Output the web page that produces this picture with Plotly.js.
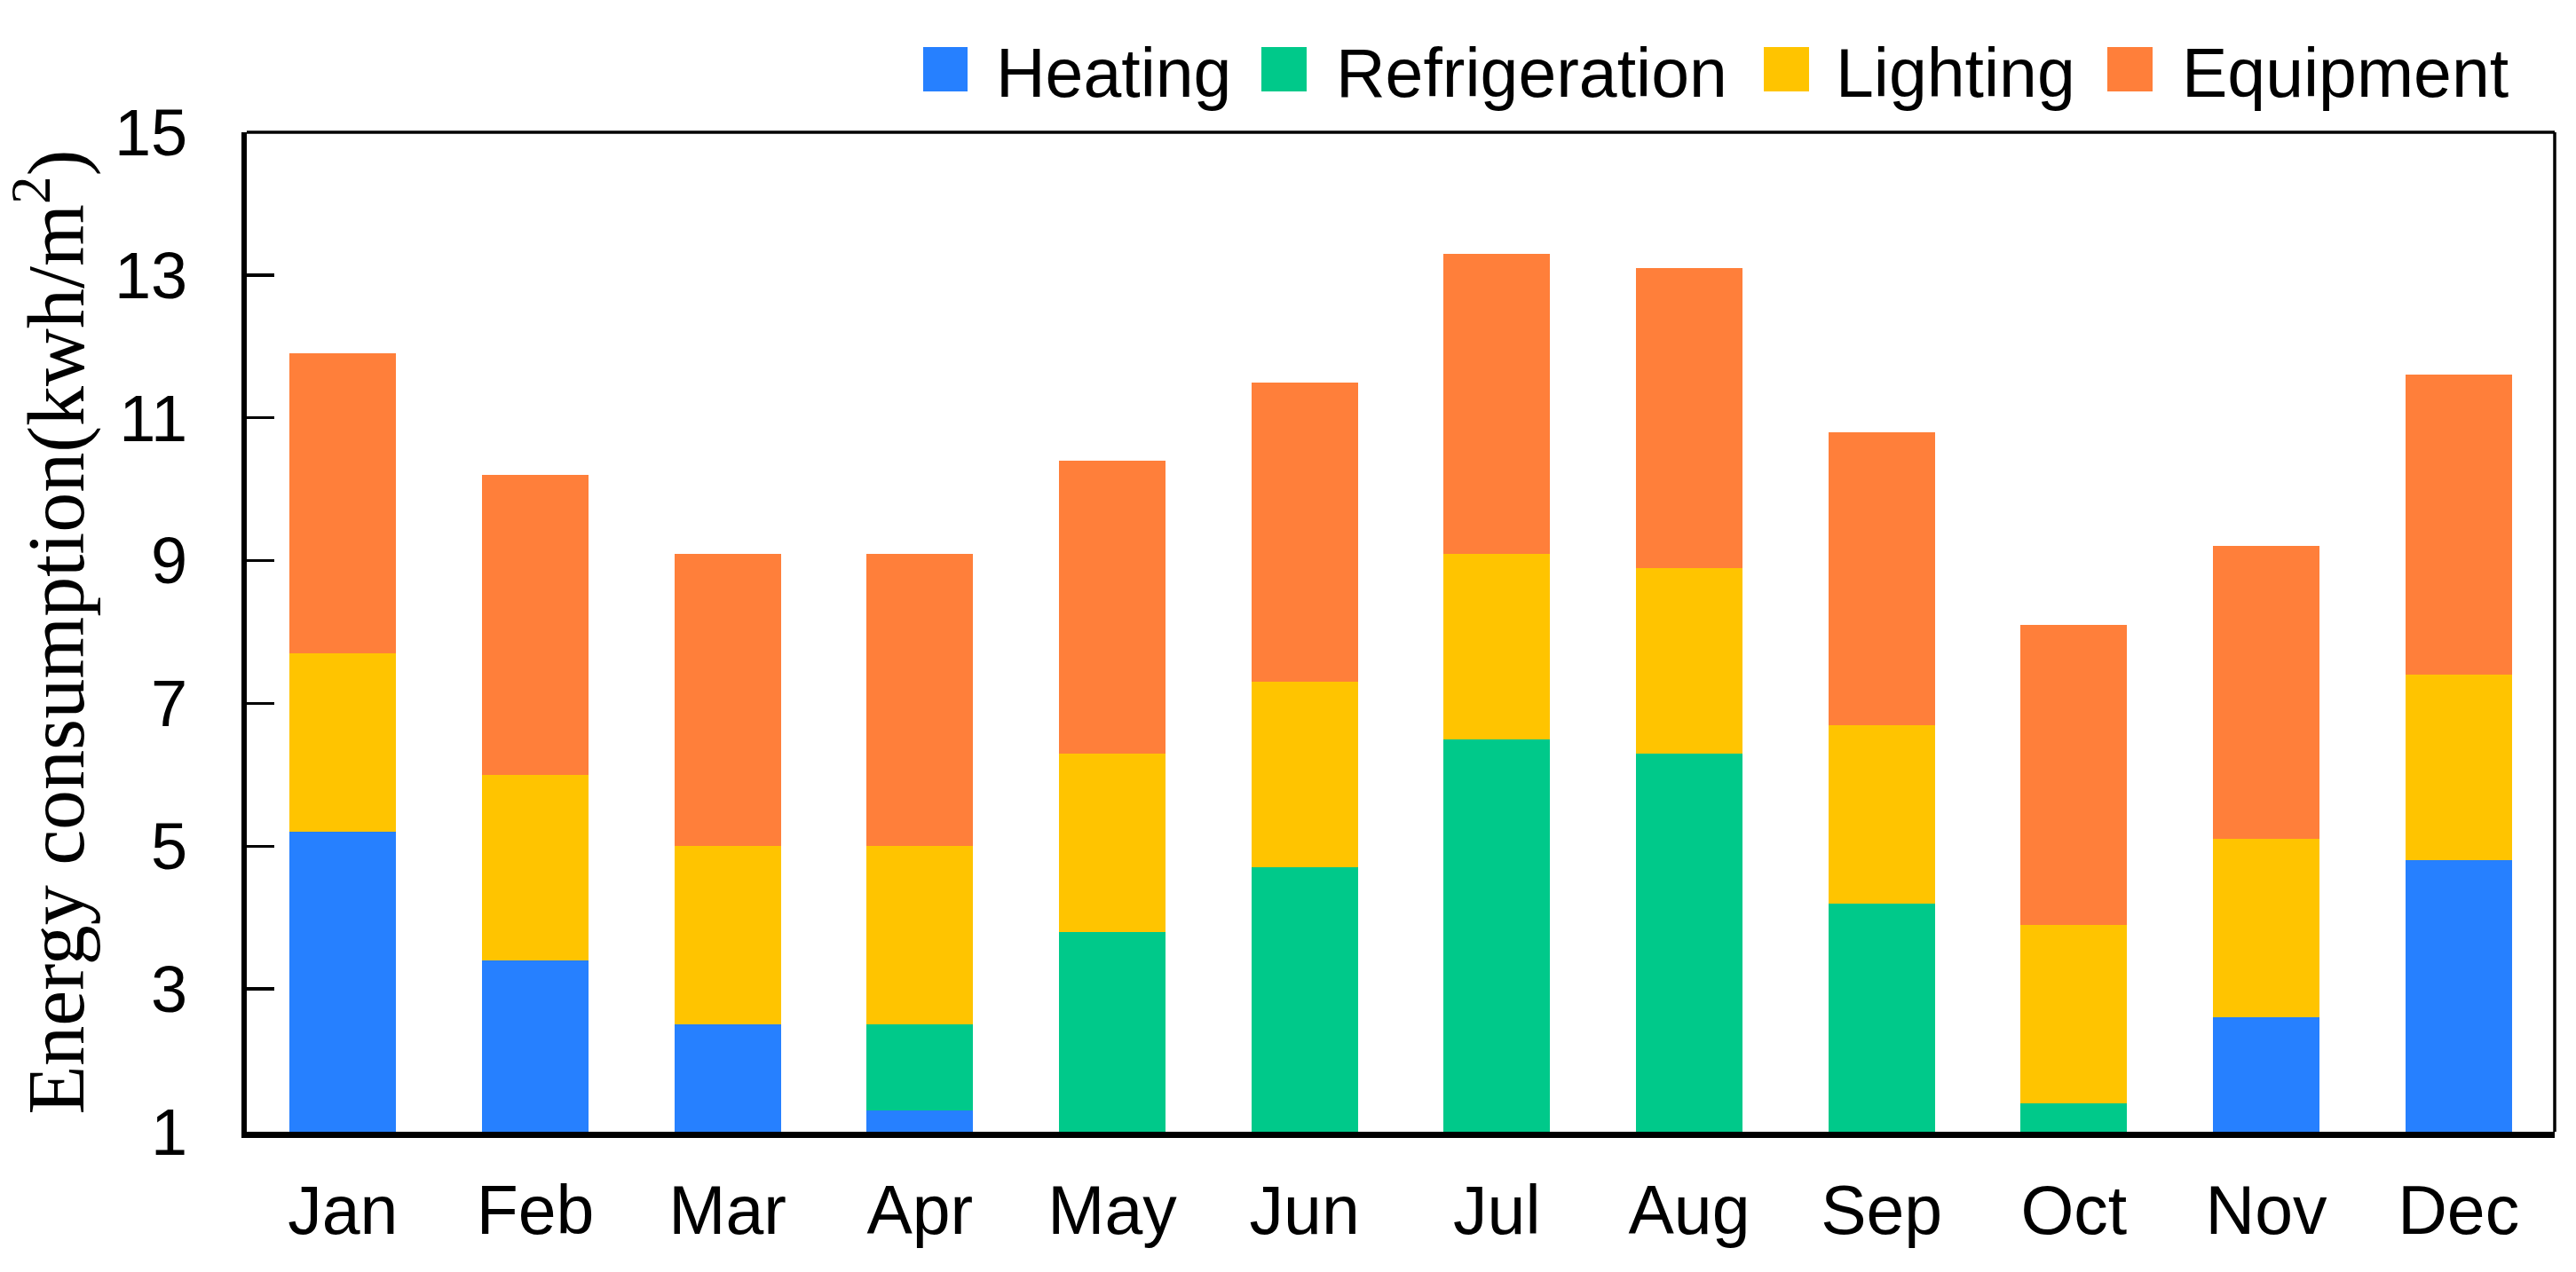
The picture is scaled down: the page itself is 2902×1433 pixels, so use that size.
<!DOCTYPE html>
<html>
<head>
<meta charset="utf-8">
<script src="https://cdn.plot.ly/plotly-3.0.1.min.js"></script>
<style>
  html, body { margin: 0; padding: 0; background: #ffffff; }
  #chart { width: 2902px; height: 1433px; }
</style>
</head>
<body>
<div id="chart"></div>
<script>
// ---- data ----
const months = ["Jan", "Feb", "Mar", "Apr", "May", "Jun", "Jul", "Aug", "Sep", "Oct", "Nov", "Dec"];
const heating       = [5.2, 3.4, 2.5, 1.3, 0, 0, 0, 0, 0, 0, 2.6, 4.8];
const refrigeration = [0, 0, 0, 1.2, 3.8, 4.7, 6.5, 6.3, 4.2, 1.4, 0, 0];
const lighting      = [2.5, 2.6, 2.5, 2.5, 2.5, 2.6, 2.6, 2.6, 2.5, 2.5, 2.5, 2.6];
const equipment     = [4.2, 4.2, 4.1, 4.1, 4.1, 4.2, 4.2, 4.2, 4.1, 4.2, 4.1, 4.2];
const seriesNames   = ["Heating", "Refrigeration", "Lighting", "Equipment"];
const yTicks        = [1, 3, 5, 7, 9, 11, 13, 15];

// ---- styles ----
const colors = ["#2680FF", "#00C98A", "#FFC400", "#FF7F3A"];
const sans = "'Liberation Sans', Arial, sans-serif";
const serif = "'Liberation Serif', 'Times New Roman', serif";

const W = 2902, H = 1433;
const M = { l: 278, r: 24, t: 149, b: 158 };
const pw = W - M.l - M.r, ph = H - M.t - M.b;
const px2x = px => (px - M.l) / pw;
const px2y = py => (H - M.b - py) / ph;

const seriesData = [heating, refrigeration, lighting, equipment];
const traces = seriesData.map((vals, i) => ({
  type: "bar",
  name: seriesNames[i],
  x: months,
  y: vals,
  marker: { color: colors[i], line: { width: 0 } },
  showlegend: false,
  hoverinfo: "x+y+name"
}));

// custom legend (large square swatches like the reference)
const legendSwatch = [[1040, 1090], [1421, 1472], [1987, 2038], [2374, 2425]];
const legendText = [1120, 1503, 2066, 2456];
const shapes = [];
const annotations = [];
seriesNames.forEach((n, i) => {
  shapes.push({
    type: "rect", xref: "paper", yref: "paper",
    x0: px2x(legendSwatch[i][0]), x1: px2x(legendSwatch[i][1]),
    y0: px2y(103), y1: px2y(53),
    fillcolor: colors[i], line: { width: 0 }
  });
  annotations.push({
    xref: "paper", yref: "paper",
    x: px2x(legendText[i]), y: px2y(82),
    xanchor: "left", yanchor: "middle",
    text: n, showarrow: false,
    font: { family: sans, size: 77, color: "#000000" }
  });
});
// thin top & right frame lines
shapes.push({ type: "line", xref: "paper", yref: "paper", x0: 0, x1: 1, y0: 1, y1: 1,
  line: { color: "#000000", width: 3.5 } });
shapes.push({ type: "line", xref: "paper", yref: "paper", x0: 1, x1: 1, y0: 0, y1: 1,
  line: { color: "#000000", width: 3.5 } });

const layout = {
  width: W, height: H,
  margin: M,
  paper_bgcolor: "#ffffff",
  plot_bgcolor: "#ffffff",
  barmode: "stack",
  bargap: 0.445,
  showlegend: false,
  font: { family: sans, color: "#000000" },
  xaxis: {
    type: "category",
    range: [-0.5, 11.5],
    showgrid: false,
    zeroline: false,
    showline: true, linecolor: "#000000", linewidth: 7,
    ticks: "",
    ticklabelstandoff: 16,
    tickfont: { family: sans, size: 77, color: "#000000" },
    fixedrange: true
  },
  yaxis: {
    range: [1, 15],
    tickvals: yTicks,
    ticktext: yTicks.map(String),
    showgrid: false,
    zeroline: false,
    showline: true, linecolor: "#000000", linewidth: 6,
    ticks: "inside", ticklen: 31, tickwidth: 3.5, tickcolor: "#000000",
    ticklabelstandoff: 46,
    tickfont: { family: sans, size: 74, color: "#000000" },
    title: {
      text: "Energy consumption(kwh/m<sup>2</sup>)",
      font: { family: serif, size: 90, color: "#000000" },
      standoff: 18
    },
    fixedrange: true
  },
  shapes: shapes,
  annotations: annotations
};

Plotly.newPlot("chart", traces, layout, { displayModeBar: false, staticPlot: true });
</script>
</body>
</html>
